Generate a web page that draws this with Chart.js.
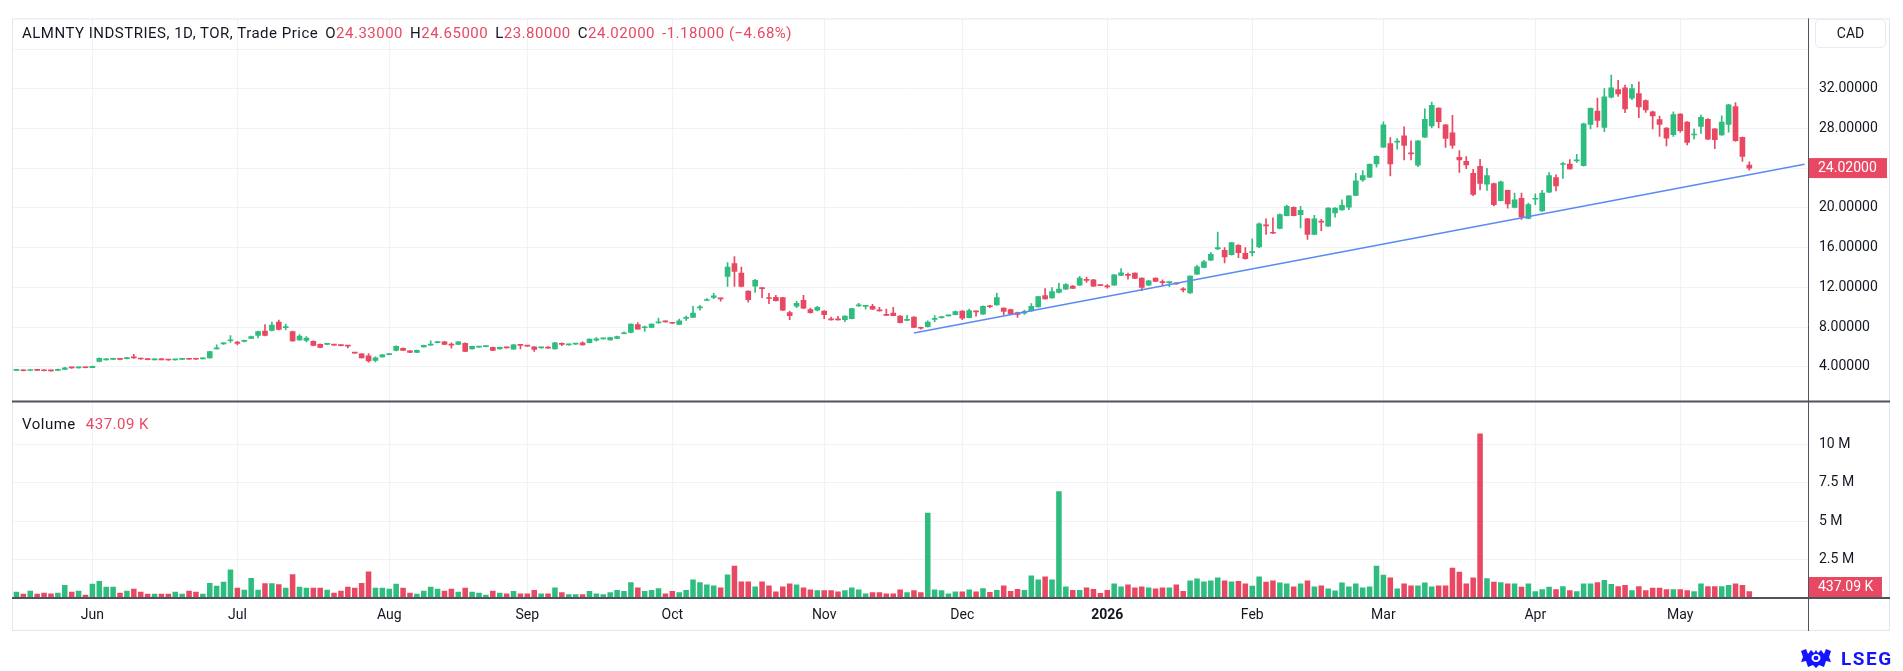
<!DOCTYPE html>
<html>
<head>
<meta charset="utf-8">
<title>ALMNTY INDSTRIES 1D</title>
<script src="https://cdn.jsdelivr.net/npm/chart.js@4.4.1/dist/chart.umd.min.js"></script>
<style>
  html, body { margin: 0; padding: 0; background: #fff; }
  body { width: 1903px; height: 671px; position: relative; overflow: hidden;
         font-family: Roboto, "Noto Sans", sans-serif; color: #131722; }
  #chart { position: absolute; left: 0; top: 0; }
  .legend { position: absolute; font-size: 15px; line-height: 20px; white-space: nowrap; letter-spacing: 0.5px; }
  .legend .gap { margin-left: 7px; }
  .down { color: #e84862; }
  #cad { position: absolute; left: 1815px; top: 19px; width: 69px; height: 27px; border: 1px solid #e8eaf0;
         border-radius: 5px; font-size: 14px; line-height: 27px; text-align: center; }
  #lseg { position: absolute; left: 1799px; top: 647px; height: 22px; display: flex; align-items: center;
          font-size: 19px; font-weight: bold; letter-spacing: 1.5px; color: #1414ff; }
  #lseg svg { margin-right: 8px; }
</style>
</head>
<body>
<canvas id="chart" width="1903" height="671"></canvas>
<div class="legend" id="title" style="left:22px; top:23px;"></div>
<div class="legend" id="volLegend" style="left:22px; top:414px;"></div>
<div id="cad">CAD</div>
<div id="lseg">
  <svg width="34" height="21" viewBox="0 0 34 21">
    <path d="M2 3 L7 1 L9 6 L12 2 L15 5 L17 2 L19 5 L22 2 L25 6 L27 1 L32 3 L30 9 L32 14 L27 13 L25 19 L20 17 L17 20 L14 17 L9 19 L7 13 L2 14 L4 9 Z" fill="#1414ff"/>
    <ellipse cx="17" cy="10" rx="4.5" ry="4" fill="#fff"/>
    <ellipse cx="17" cy="10" rx="2.5" ry="2.2" fill="#1414ff"/>
  </svg>LSEG
</div>
<script>
// ---- data: daily bars, 15 May 2025 -> 15 May 2026 ----
const opens = [
  3.64, 3.68, 3.62, 3.68, 3.64, 3.62, 3.62, 3.72, 3.92, 3.88, 3.95, 3.92,
  4.55, 4.70, 4.75, 4.80, 4.82, 4.93, 4.82, 4.78, 4.70, 4.74, 4.72, 4.69,
  4.74, 4.80, 4.79, 4.80, 4.88, 5.80, 6.30, 6.62, 6.48, 6.55, 6.85, 7.15,
  7.60, 7.65, 8.50, 7.95, 7.55, 6.70, 6.65, 6.55, 6.25, 6.26, 6.22, 6.17,
  6.12, 5.44, 5.30, 5.10, 4.65, 5.00, 5.22, 5.65, 5.85, 5.60, 5.45, 6.00,
  6.18, 6.43, 6.50, 6.22, 6.25, 6.35, 5.80, 5.98, 6.03, 5.95, 5.80, 5.94,
  5.78, 6.20, 6.12, 6.00, 5.90, 5.92, 5.80, 6.28, 6.20, 6.28, 6.40, 6.42,
  6.68, 6.81, 6.70, 6.85, 7.33, 7.45, 8.25, 7.93, 7.97, 8.42, 8.57, 8.42,
  8.27, 8.88, 8.97, 9.93, 10.68, 10.99, 10.88, 13.10, 14.40, 13.45, 11.62, 12.13,
  11.92, 10.92, 11.00, 10.98, 9.45, 10.10, 10.70, 9.75, 9.70, 9.60, 8.77, 8.77,
  8.75, 8.85, 10.13, 10.08, 10.10, 9.67, 9.22, 9.40, 9.10, 8.68, 9.00, 7.92,
  8.03, 8.78, 8.95, 9.13, 9.25, 9.60, 8.95, 9.57, 9.30, 10.10, 10.23, 9.90,
  9.77, 9.47, 9.40, 9.63, 10.03, 11.17, 10.93, 11.50, 11.83, 12.13, 12.23, 12.78,
  12.77, 12.22, 12.09, 12.23, 13.20, 13.25, 13.43, 12.93, 12.23, 12.93, 12.52, 12.47,
  12.39, 11.79, 11.43, 13.33, 14.00, 14.73, 15.87, 15.73, 15.30, 16.23, 15.43, 15.50,
  16.07, 18.30, 17.50, 17.93, 19.23, 20.07, 19.33, 18.90, 17.33, 18.62, 18.17, 19.50,
  19.80, 20.07, 21.27, 22.83, 23.10, 24.43, 26.13, 26.50, 26.63, 27.27, 25.50, 24.30,
  27.13, 28.27, 30.07, 28.37, 27.57, 25.10, 24.70, 23.50, 24.20, 22.40, 22.46, 20.74,
  21.78, 20.05, 20.98, 18.95, 20.88, 19.70, 21.60, 23.05, 24.38, 24.43, 24.75, 24.25,
  28.42, 29.76, 28.11, 31.17, 31.93, 32.10, 31.07, 31.52, 30.83, 29.69, 28.90, 28.04,
  27.39, 29.45, 28.66, 27.35, 28.21, 28.94, 27.97, 27.35, 28.42, 30.21, 27.11, 24.33
];
const highs = [
  3.70, 3.70, 3.68, 3.70, 3.66, 3.64, 3.77, 3.93, 3.96, 3.96, 4.00, 4.08,
  4.90, 4.82, 4.86, 4.84, 4.95, 5.25, 4.88, 4.80, 4.82, 4.84, 4.76, 4.76,
  4.80, 4.82, 4.82, 4.90, 5.55, 6.20, 6.44, 7.15, 6.55, 6.70, 7.10, 7.60,
  8.24, 8.50, 8.70, 8.30, 7.60, 7.25, 7.05, 6.62, 6.30, 6.34, 6.26, 6.20,
  6.16, 5.46, 5.34, 5.33, 5.00, 5.24, 5.30, 6.10, 5.90, 5.64, 5.68, 6.18,
  6.60, 6.50, 6.55, 6.40, 6.53, 6.40, 6.08, 6.06, 6.08, 5.98, 5.98, 5.96,
  6.25, 6.24, 6.16, 6.04, 5.96, 6.04, 6.45, 6.42, 6.26, 6.34, 6.50, 6.82,
  6.95, 6.86, 6.97, 7.08, 7.52, 8.32, 8.45, 8.10, 8.32, 8.90, 8.62, 8.46,
  8.80, 9.10, 10.10, 10.20, 10.87, 11.40, 10.92, 14.50, 15.10, 14.05, 11.65, 12.80,
  11.95, 11.40, 11.20, 11.00, 9.60, 10.60, 11.20, 9.92, 10.10, 9.65, 9.00, 9.07,
  9.12, 9.88, 10.38, 10.15, 10.30, 10.00, 9.80, 10.00, 9.15, 9.17, 9.05, 8.00,
  8.62, 9.15, 9.05, 9.20, 9.60, 9.65, 9.80, 9.62, 10.15, 10.20, 11.43, 9.95,
  9.80, 9.50, 9.70, 10.37, 11.10, 11.87, 11.97, 12.40, 12.37, 12.18, 13.10, 13.03,
  12.80, 12.26, 12.27, 13.30, 13.90, 13.43, 13.46, 12.96, 12.70, 12.96, 12.77, 12.52,
  12.45, 11.97, 13.16, 14.23, 14.73, 15.50, 17.57, 16.00, 16.55, 16.30, 16.00, 16.90,
  18.50, 18.90, 19.00, 19.40, 20.30, 20.12, 20.17, 18.95, 19.27, 18.85, 20.05, 20.05,
  20.83, 21.25, 23.50, 23.77, 24.45, 25.25, 28.67, 27.10, 27.00, 28.17, 26.77, 26.80,
  30.00, 30.67, 30.10, 28.40, 29.33, 25.77, 25.17, 23.90, 24.90, 24.00, 22.50, 22.70,
  21.80, 21.50, 21.50, 20.50, 21.43, 21.78, 23.57, 23.33, 24.60, 24.88, 25.40, 28.55,
  30.10, 31.07, 32.03, 33.38, 32.86, 32.38, 32.45, 32.72, 30.90, 29.75, 29.25, 28.10,
  29.69, 29.50, 28.70, 27.97, 29.35, 29.00, 28.00, 29.28, 30.45, 30.62, 27.15, 24.65
];
const lows = [
  3.62, 3.58, 3.60, 3.62, 3.58, 3.56, 3.60, 3.70, 3.84, 3.86, 3.88, 3.90,
  4.50, 4.66, 4.72, 4.70, 4.80, 4.85, 4.74, 4.70, 4.68, 4.68, 4.64, 4.66,
  4.72, 4.74, 4.74, 4.78, 4.86, 5.78, 6.26, 6.45, 6.20, 6.50, 6.82, 6.90,
  7.10, 7.60, 7.70, 7.70, 6.55, 6.65, 6.50, 6.10, 5.90, 6.22, 6.14, 6.10,
  5.90, 5.36, 4.88, 4.45, 4.50, 4.97, 5.20, 5.60, 5.62, 5.42, 5.42, 5.98,
  6.15, 6.40, 6.22, 5.88, 6.22, 5.52, 5.76, 5.95, 6.00, 5.62, 5.78, 5.88,
  5.76, 5.80, 6.06, 5.55, 5.88, 5.86, 5.78, 6.12, 6.18, 6.26, 6.18, 6.40,
  6.58, 6.79, 6.68, 6.83, 7.30, 7.42, 7.78, 7.55, 7.95, 8.40, 8.50, 8.36,
  8.25, 8.66, 8.95, 9.70, 10.65, 10.85, 10.60, 12.10, 12.10, 12.05, 10.50, 11.50,
  10.95, 10.35, 10.60, 9.65, 8.75, 9.95, 9.85, 9.40, 9.62, 8.85, 8.70, 8.70,
  8.55, 8.82, 10.08, 9.80, 9.78, 9.60, 9.15, 9.12, 8.42, 8.64, 7.95, 7.80,
  8.00, 8.55, 8.90, 9.10, 9.22, 8.75, 8.92, 9.10, 9.28, 9.95, 10.20, 9.23,
  9.30, 8.97, 9.28, 9.60, 10.00, 10.80, 10.90, 11.45, 11.80, 11.88, 12.20, 12.50,
  12.10, 12.16, 11.93, 12.20, 13.18, 12.83, 12.88, 11.67, 12.20, 12.58, 12.17, 12.07,
  12.30, 11.53, 11.40, 13.30, 13.98, 14.70, 15.80, 14.47, 15.25, 15.00, 14.85, 15.17,
  16.00, 17.33, 17.40, 17.90, 19.20, 19.20, 18.00, 16.83, 17.30, 17.70, 18.15, 19.07,
  19.78, 19.83, 21.25, 22.67, 23.05, 24.10, 26.10, 23.23, 25.93, 24.83, 24.83, 24.17,
  27.10, 28.07, 28.07, 26.10, 26.00, 23.57, 23.97, 21.23, 21.83, 21.78, 20.20, 20.70,
  19.99, 20.00, 18.85, 18.90, 20.33, 19.65, 21.55, 21.71, 22.98, 23.90, 24.60, 24.20,
  27.97, 28.14, 27.70, 31.10, 31.24, 29.59, 30.90, 29.10, 29.62, 27.97, 27.20, 26.25,
  27.21, 27.63, 26.35, 26.94, 27.52, 26.87, 25.98, 27.30, 27.63, 26.70, 24.70, 23.80
];
const closes = [
  3.68, 3.60, 3.66, 3.64, 3.60, 3.58, 3.75, 3.90, 3.88, 3.93, 3.90, 4.05,
  4.85, 4.78, 4.82, 4.74, 4.92, 4.90, 4.78, 4.72, 4.74, 4.70, 4.68, 4.73,
  4.78, 4.76, 4.76, 4.87, 5.52, 5.88, 6.40, 6.65, 6.35, 6.65, 7.05, 7.55,
  7.15, 8.20, 7.75, 8.00, 6.60, 7.10, 6.90, 6.15, 5.95, 6.30, 6.18, 6.13,
  6.08, 5.38, 4.90, 4.60, 4.90, 5.20, 5.27, 6.05, 5.65, 5.45, 5.65, 6.15,
  6.22, 6.47, 6.25, 6.18, 6.50, 5.55, 6.05, 6.03, 6.06, 5.65, 5.95, 5.90,
  6.22, 6.15, 6.08, 5.75, 5.94, 5.88, 6.42, 6.25, 6.24, 6.32, 6.20, 6.80,
  6.82, 6.84, 6.95, 7.05, 7.37, 8.30, 7.80, 7.97, 8.30, 8.47, 8.53, 8.38,
  8.62, 8.92, 9.40, 9.97, 10.72, 11.15, 10.84, 14.05, 13.60, 12.10, 10.75, 12.70,
  11.87, 10.88, 10.65, 9.70, 9.15, 10.40, 9.90, 9.45, 10.00, 9.25, 8.73, 8.73,
  9.10, 9.85, 10.17, 10.12, 9.80, 9.63, 9.18, 9.15, 8.45, 8.72, 7.97, 7.88,
  8.50, 8.82, 8.99, 9.17, 9.55, 8.90, 9.65, 9.53, 10.10, 10.05, 10.97, 9.57,
  9.33, 9.27, 9.57, 10.10, 11.07, 10.83, 11.57, 11.83, 12.27, 11.90, 12.93, 12.70,
  12.13, 12.18, 12.05, 13.27, 13.47, 13.21, 12.90, 12.00, 12.67, 12.60, 12.48, 12.50,
  12.35, 11.75, 13.13, 14.07, 14.57, 15.33, 16.00, 15.07, 16.50, 15.50, 14.90, 15.60,
  18.40, 18.20, 17.45, 19.33, 20.17, 19.23, 19.77, 17.33, 18.90, 18.58, 20.00, 20.00,
  20.27, 21.23, 22.73, 23.27, 24.40, 25.20, 28.37, 24.43, 26.70, 26.30, 25.45, 26.77,
  28.93, 30.33, 28.70, 27.00, 26.30, 24.83, 24.33, 21.37, 22.48, 23.26, 20.33, 22.64,
  20.40, 20.81, 19.09, 20.33, 20.95, 21.50, 23.26, 22.22, 24.42, 23.94, 24.79, 28.49,
  30.04, 28.83, 31.21, 32.10, 31.48, 29.97, 32.03, 30.17, 29.87, 29.28, 28.42, 27.04,
  29.42, 27.80, 26.60, 27.45, 29.14, 26.94, 26.87, 28.66, 30.38, 26.77, 25.20, 24.02
];
// volume in millions of shares
const volumes = [
  0.41, 0.28, 0.47, 0.28, 0.34, 0.30, 0.34, 0.85, 0.41, 0.47, 0.21, 0.92,
  1.11, 0.73, 0.73, 0.34, 0.47, 0.60, 0.41, 0.28, 0.28, 0.28, 0.28, 0.41,
  0.28, 0.47, 0.41, 0.28, 0.98, 0.79, 1.05, 1.86, 0.66, 0.53, 1.30, 0.53,
  0.96, 0.96, 0.90, 0.66, 1.54, 0.73, 0.66, 0.66, 0.66, 0.53, 0.34, 0.47,
  0.73, 0.66, 0.98, 1.73, 0.66, 0.66, 0.60, 0.92, 0.66, 0.34, 0.28, 0.47,
  0.73, 0.60, 0.47, 0.60, 0.41, 0.66, 0.41, 0.34, 0.21, 0.47, 0.34, 0.30,
  0.45, 0.30, 0.30, 0.52, 0.30, 0.30, 0.69, 0.37, 0.24, 0.24, 0.24, 0.45,
  0.30, 0.24, 0.37, 0.52, 0.45, 1.03, 0.69, 0.45, 0.52, 0.63, 0.30, 0.45,
  0.37, 0.52, 1.21, 1.03, 0.88, 0.82, 0.69, 1.53, 2.09, 1.08, 1.08, 0.75,
  1.08, 0.82, 0.43, 0.75, 0.95, 0.88, 0.69, 0.56, 0.50, 0.50, 0.50, 0.43,
  0.50, 0.69, 0.56, 0.30, 0.37, 0.37, 0.30, 0.30, 0.56, 0.37, 0.50, 0.37,
  5.54, 0.56, 0.50, 0.30, 0.43, 0.43, 0.56, 0.43, 0.63, 0.39, 0.52, 0.82,
  0.45, 0.58, 0.52, 1.46, 1.20, 1.39, 1.20, 6.93, 0.75, 0.52, 0.52, 0.69,
  0.58, 0.32, 0.52, 0.94, 0.75, 0.88, 0.69, 0.75, 0.69, 0.62, 0.69, 0.69,
  0.88, 0.45, 1.14, 1.27, 1.07, 1.14, 1.33, 1.14, 1.07, 1.10, 0.95, 0.80,
  1.40, 1.05, 1.14, 1.01, 0.95, 0.75, 0.95, 1.14, 0.75, 0.82, 0.62, 0.49,
  1.01, 0.75, 0.95, 0.69, 0.75, 2.09, 1.51, 1.33, 0.62, 0.95, 0.82, 0.82,
  1.01, 0.75, 0.82, 0.82, 1.96, 1.70, 0.95, 1.33, 10.69, 1.28, 1.06, 1.02,
  0.95, 0.95, 0.73, 0.95, 0.44, 0.57, 0.73, 0.57, 0.77, 0.51, 0.44, 0.95,
  0.95, 1.02, 1.17, 0.91, 0.77, 0.84, 0.51, 0.77, 0.51, 0.66, 0.66, 0.57,
  0.57, 0.57, 0.51, 0.44, 0.95, 0.77, 0.77, 0.77, 0.84, 0.95, 0.84, 0.43709
];

// month labels sit on the first trading day of each month
const monthBars = [11, 32, 54, 74, 95, 117, 137, 158, 179, 198, 220, 241];
const monthNames = ['Jun', 'Jul', 'Aug', 'Sep', 'Oct', 'Nov', 'Dec', '2026', 'Feb', 'Mar', 'Apr', 'May'];
const priceTicks = [4, 8, 12, 16, 20, 24, 28, 32, 36];
const volumeTicks = [2.5, 5, 7.5, 10];
const prevClose = 25.20;

// hand drawn trend line (bar index, price)
const trendStart = { bar: 130, price: 7.40 };
const trendEnd = { bar: 259, price: 24.40 };
const emptyBarsRight = 8;

// ---- styling ----
const UP = '#2ebd7f';
const DOWN = '#e84862';
const GRID = '#f0f2f6';
const AXIS_LINE = '#50535e';
const FONT = 'Roboto, "Noto Sans", sans-serif';

const barCount = opens.length;
const labels = Array.from({ length: barCount + emptyBarsRight }, (_, i) => i);
const candleColors = opens.map((o, i) => closes[i] >= o ? UP : DOWN);
const bodies = opens.map((o, i) => [o, closes[i]]);
const wicks = lows.map((l, i) => [l, highs[i]]);
const trend = labels.map(i => i === trendStart.bar ? trendStart.price : (i === trendEnd.bar ? trendEnd.price : null));

// legend texts
const last = barCount - 1;
const change = closes[last] - prevClose;
const pct = change / prevClose * 100;
const fmt = v => v.toFixed(5);
document.getElementById('title').innerHTML =
  'ALMNTY INDSTRIES, 1D, TOR, Trade Price' +
  '<span class="gap">O</span><span class="down">' + fmt(opens[last]) + '</span>' +
  '<span class="gap">H</span><span class="down">' + fmt(highs[last]) + '</span>' +
  '<span class="gap">L</span><span class="down">' + fmt(lows[last]) + '</span>' +
  '<span class="gap">C</span><span class="down">' + fmt(closes[last]) + '</span>' +
  '<span class="gap down">' + fmt(change) + ' (\u2212' + Math.abs(pct).toFixed(2) + '%)</span>';
const volText = (volumes[last] * 1000).toFixed(2) + ' K';
document.getElementById('volLegend').innerHTML = 'Volume<span class="gap down" style="margin-left:10px">' + volText + '</span>';

// frame, pane separator and last value tags
const framePlugin = {
    id: 'frame',
    afterDraw(chart) {
        const { ctx, chartArea: a, scales } = chart;
        const right = scales.yP.right;
        const bottom = scales.x.bottom;
        const sep = scales.yP.bottom;
        ctx.save();
        ctx.strokeStyle = '#e3e6ec';
        ctx.lineWidth = 1;
        ctx.strokeRect(a.left - 0.5, a.top - 0.5, right - a.left, bottom - a.top);

        ctx.strokeStyle = AXIS_LINE;
        ctx.lineWidth = 2;
        ctx.beginPath();
        ctx.moveTo(a.left - 1, sep); ctx.lineTo(right, sep);
        ctx.moveTo(a.left - 1, a.bottom); ctx.lineTo(right, a.bottom);
        ctx.stroke();
        ctx.lineWidth = 1;
        ctx.beginPath();
        ctx.moveTo(a.right + 0.5, a.top - 1); ctx.lineTo(a.right + 0.5, bottom);
        ctx.stroke();

        // last price and last volume tags
        const tag = (text, y, w) => {
            ctx.fillStyle = DOWN;
            ctx.fillRect(a.right + 1, y - 10, w, 20);
            ctx.fillStyle = '#fff';
            ctx.font = '14px ' + FONT;
            ctx.textBaseline = 'middle';
            ctx.textAlign = 'left';
            ctx.fillText(text, a.right + 10, y + 0.5);
        };
        tag(fmt(closes[last]), scales.yP.getPixelForValue(closes[last]), 78);
        const vy = Math.min(scales.yV.getPixelForValue(volumes[last]), a.bottom - 11);
        tag(volText, vy, 73);
        ctx.restore();
    }
};

Chart.defaults.font.family = FONT;
Chart.defaults.font.size = 14;
Chart.defaults.color = '#131722';

new Chart(document.getElementById('chart'), {
    type: 'bar',
    data: {
        labels: labels,
        datasets: [
            {
                label: 'Trend',
                type: 'line',
                data: trend,
                yAxisID: 'yP',
                borderColor: '#5b8af5',
                borderWidth: 1.5,
                pointRadius: 0,
                spanGaps: true,
                order: 0
            },
            {
                label: 'Body',
                data: bodies,
                yAxisID: 'yP',
                backgroundColor: candleColors,
                barThickness: 5,
                minBarLength: 1,
                grouped: false,
                order: 1
            },
            {
                label: 'Wick',
                data: wicks,
                yAxisID: 'yP',
                backgroundColor: candleColors,
                barThickness: 1,
                minBarLength: 1,
                grouped: false,
                order: 2
            },
            {
                label: 'Volume',
                data: volumes,
                yAxisID: 'yV',
                backgroundColor: candleColors,
                barPercentage: 0.8,
                categoryPercentage: 1,
                grouped: false,
                order: 3
            }
        ]
    },
    options: {
        responsive: false,
        devicePixelRatio: 1,
        animation: false,
        layout: { padding: { left: 13, top: 15, right: 13, bottom: 40 } },
        plugins: { legend: { display: false }, tooltip: { enabled: false } },
        scales: {
            x: {
                offset: true,
                border: { display: false },
                grid: {
                    offset: false,
                    drawTicks: false,
                    color: (c) => monthBars.includes(c.index) ? GRID : 'rgba(0,0,0,0)'
                },
                ticks: {
                    autoSkip: false,
                    maxRotation: 0,
                    padding: 9,
                    callback: (v, i) => {
                        const k = monthBars.indexOf(i);
                        return k >= 0 ? monthNames[k] : '';
                    },
                    font: (c) => ({ weight: c.tick && c.tick.label === '2026' ? 'bold' : 'normal', size: 14 })
                },
                afterFit: (s) => { s.height = 33; }
            },
            yP: {
                position: 'right',
                stack: 'panes',
                stackWeight: 385,
                min: 0.5,
                max: 39,
                border: { display: false },
                grid: { color: GRID, drawTicks: false },
                afterBuildTicks: (s) => { s.ticks = priceTicks.map(v => ({ value: v })); },
                ticks: {
                    padding: 11,
                    callback: (v) => v === 36 ? '' : v.toFixed(5)
                },
                afterFit: (s) => { s.width = 82; }
            },
            yV: {
                position: 'right',
                stack: 'panes',
                stackWeight: 198,
                min: 0,
                max: 12.77,
                border: { display: false },
                grid: { color: GRID, drawTicks: false },
                afterBuildTicks: (s) => { s.ticks = volumeTicks.map(v => ({ value: v })); },
                ticks: {
                    padding: 11,
                    callback: (v) => v + ' M'
                },
                afterFit: (s) => { s.width = 82; }
            }
        }
    },
    plugins: [framePlugin]
});
</script>
</body>
</html>
